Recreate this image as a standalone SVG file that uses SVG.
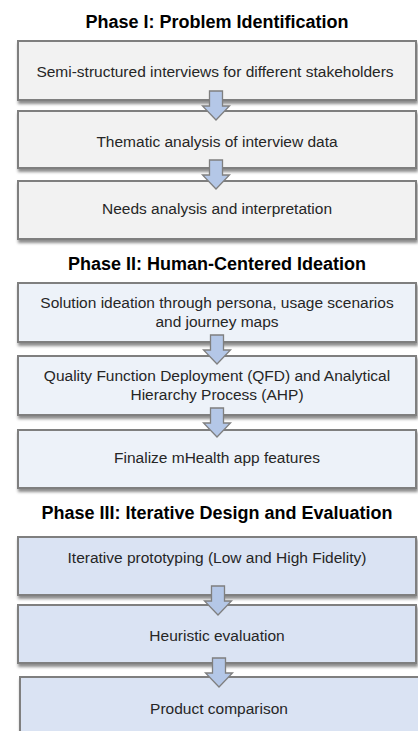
<svg xmlns="http://www.w3.org/2000/svg" width="418" height="731" viewBox="0 0 418 731">
  <style>
    .title { font-family: "Liberation Sans", Arial, sans-serif; font-weight: bold; font-size: 18px; fill: #000; text-anchor: middle; }
    .label { font-family: "Liberation Sans", Arial, sans-serif; font-size: 15.5px; fill: #262626; text-anchor: middle; }
    .box { stroke: #7f7f7f; stroke-width: 2; filter: url(#shadow); }
    .p1 { fill: #f2f2f2; }
    .p2 { fill: #edf2f9; }
    .p3 { fill: #dae3f3; }
    .arrow { fill: #b4c7e7; stroke: #7f7f7f; stroke-width: 1.3; stroke-linejoin: miter; }
  </style>
  <defs>
    <filter id="shadow" x="-5%" y="-20%" width="110%" height="150%">
      <feDropShadow dx="1" dy="3" stdDeviation="1.5" flood-color="#000" flood-opacity="0.45"/>
    </filter>
    <!-- block arrow pointing down, origin at top centre of the shaft -->
    <path id="down" d="M -6.5 0 H 6.5 V 15 H 13.5 L 0 29 L -13.5 15 H -6.5 Z"/>
  </defs>
  <rect width="418" height="731" fill="#ffffff"/>

  <!-- Phase I -->
  <text class="title" x="217" y="28">Phase I: Problem Identification</text>
  <g id="interviews">
    <rect class="box p1" x="18" y="41" width="398" height="59"/>
    <text class="label" x="215" y="77">Semi-structured interviews for different stakeholders</text>
  </g>
  <g id="thematic-analysis">
    <rect class="box p1" x="18" y="111" width="398" height="57"/>
    <text class="label" x="217" y="147">Thematic analysis of interview data</text>
  </g>
  <g id="needs-analysis">
    <rect class="box p1" x="18" y="181" width="398" height="58"/>
    <text class="label" x="217" y="214">Needs analysis and interpretation</text>
  </g>

  <!-- Phase II -->
  <text class="title" x="217" y="270">Phase II: Human-Centered Ideation</text>
  <g id="solution-ideation">
    <rect class="box p2" x="18" y="283" width="398" height="59"/>
    <text class="label" x="217" y="308">Solution ideation through persona, usage scenarios</text>
    <text class="label" x="217" y="327">and journey maps</text>
  </g>
  <g id="qfd-ahp">
    <rect class="box p2" x="18" y="356" width="398" height="59"/>
    <text class="label" x="217" y="381">Quality Function Deployment (QFD) and Analytical</text>
    <text class="label" x="217" y="400">Hierarchy Process (AHP)</text>
  </g>
  <g id="finalize-features">
    <rect class="box p2" x="18" y="430" width="398" height="58"/>
    <text class="label" x="217" y="463">Finalize mHealth app features</text>
  </g>

  <!-- Phase III -->
  <text class="title" x="217" y="519">Phase III: Iterative Design and Evaluation</text>
  <g id="prototyping">
    <rect class="box p3" x="18" y="537" width="398" height="58"/>
    <text class="label" x="217" y="563">Iterative prototyping (Low and High Fidelity)</text>
  </g>
  <g id="heuristic-evaluation">
    <rect class="box p3" x="18" y="605" width="398" height="58"/>
    <text class="label" x="217" y="641">Heuristic evaluation</text>
  </g>
  <g id="product-comparison">
    <rect class="box p3" x="20" y="677" width="400" height="70"/>
    <text class="label" x="219" y="714">Product comparison</text>
  </g>

  <!-- connectors -->
  <g id="connectors">
    <use href="#down" class="arrow" x="216" y="91"/>
    <use href="#down" class="arrow" x="216" y="160"/>
    <use href="#down" class="arrow" x="217" y="335"/>
    <use href="#down" class="arrow" x="217" y="408"/>
    <use href="#down" class="arrow" x="218" y="586"/>
    <use href="#down" class="arrow" x="219" y="658"/>
  </g>
</svg>
